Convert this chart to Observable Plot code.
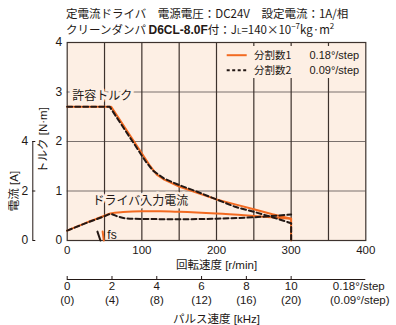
<!DOCTYPE html>
<html><head><meta charset="utf-8">
<script src="https://cdn.jsdelivr.net/npm/d3@7"></script>
<script src="https://cdn.jsdelivr.net/npm/@observablehq/plot@0.6"></script>
<style>
body{margin:0;background:#fff;}
#wrap{position:relative;width:396px;height:325px;color:#231815;overflow:hidden;}
#chart{position:absolute;left:0;top:0;}
#title{position:absolute;left:66px;top:6px;font-family:"Noto Sans CJK JP",sans-serif;font-size:11.5px;line-height:15.5px;white-space:nowrap;}
#title b{font-family:"Liberation Sans",sans-serif;font-weight:bold;font-size:12px;}
#legend{position:absolute;left:222px;top:46px;width:141px;height:32px;background:#fdefe4;}
#legend svg{position:absolute;left:0;top:0;}
</style></head><body>
<div id="wrap">
<div id="chart"></div>
<div id="title">定電流ドライバ　電源電圧：DC24V　設定電流：1A/相<br>クリーンダンパ <b>D6CL-8.0F</b>付：J<span style="font-size:8px">L</span>=140×10<sup style="font-size:8px;line-height:0">−7</sup>kg·m<sup style="font-size:8px;line-height:0">2</sup></div>
<div id="legend"></div>
</div>
<script>
// ---- tick labels / categories ----
const rpmTicks = [0, 100, 200, 300, 400];
const gridRpm = [50, 100, 150, 200, 250, 300, 350];
const gridTorque = [1, 2, 3];
const torqueTicks = [0, 1, 2, 3, 4];
const currentTicks = [0, 2, 4];
const pulseKHz = [0, 2, 4, 6, 8, 10];
const pulseLabels = ["0", "2", "4", "6", "8", "10"];
const pulseLabels2 = ["(0)", "(4)", "(8)", "(12)", "(16)", "(20)"];
const legendNames = ["分割数1", "分割数2"];
const legendSteps = ["0.18°/step", "0.09°/step"];

// ---- series: torque [N·m] vs speed [r/min] ----
const torque1Rpm = [0, 59, 110, 120, 130, 150, 175, 200, 225, 250, 275, 300, 300];
const torque1 =    [2.7, 2.7, 1.53, 1.33, 1.23, 1.09, 0.96, 0.83, 0.73, 0.63, 0.53, 0.44, 0];
const torque2Rpm = [0, 57, 105, 115, 130, 150, 175, 200, 225, 250, 275, 300, 300];
const torque2 =    [2.7, 2.7, 1.6, 1.41, 1.25, 1.12, 0.98, 0.83, 0.68, 0.58, 0.47, 0.35, 0];

// ---- series: driver input current [A] vs speed [r/min] ----
const current1Rpm = [0, 25, 50, 58, 75, 100, 125, 150, 200, 250, 300];
const current1 =    [0.4, 0.71, 1.0, 1.09, 1.15, 1.18, 1.18, 1.16, 1.09, 0.99, 0.88];
const current2Rpm = [0, 25, 50, 58, 68, 80, 100, 150, 200, 250, 300];
const current2 =    [0.4, 0.7, 0.98, 1.07, 0.97, 0.89, 0.87, 0.86, 0.88, 0.94, 1.05];

// ---- self-start frequency fs markers (speed, torque) ----
const fs1Rpm = [47.5, 49]; const fs1Torque = [0.18, 0];
const fs2Rpm = [40.5, 44.5]; const fs2Torque = [0.18, 0];

const ORANGE = "#f26a21", BLACK = "#231815", BG = "#fdefe4";
const GRIDV = "#3d322d", GRIDH = "#7a716d";
const LAT = "Liberation Sans, Noto Sans CJK JP, sans-serif";
const CJK = "Noto Sans CJK JP, sans-serif";

const zip = (xs, ys) => xs.map((x, i) => ({x, y: ys[i]}));
const T1 = zip(torque1Rpm, torque1), T2 = zip(torque2Rpm, torque2);
const C1 = zip(current1Rpm, current1.map(a => a / 2)); // current axis: 4 A ↔ 2 N·m
const C2 = zip(current2Rpm, current2.map(a => a / 2));
const F1 = zip(fs1Rpm, fs1Torque), F2 = zip(fs2Rpm, fs2Torque);

const off = 39; // secondary axis offset below frame
const FS = 11.5;
const chart = Plot.plot({
  width: 396, height: 325,
  marginLeft: 66.7, marginRight: 30.7, marginTop: 42, marginBottom: 85,
  x: {domain: [0, 400], axis: null},
  y: {domain: [0, 4], axis: null},
  style: {background: "transparent", color: BLACK},
  marks: [
    Plot.frame({fill: BG, stroke: null}),
    Plot.ruleY(gridTorque, {stroke: GRIDH, strokeWidth: 1.2}),
    Plot.ruleX(gridRpm, {stroke: GRIDV, strokeWidth: 1.2}),
    Plot.frame({stroke: GRIDV, strokeWidth: 1.2}),
    // labels with halo
    Plot.text(["許容トルク"], {x: 47, y: 3, text: d => d, fontFamily: CJK, fontSize: 12, fill: BLACK, stroke: BG, strokeWidth: 6, dy: 4}),
    Plot.text(["ドライバ入力電流"], {x: 98, y: 0.79, text: d => d, fontFamily: CJK, fontSize: 12, fill: BLACK, stroke: BG, strokeWidth: 5}),
    Plot.text(["fs"], {x: 60, y: 0.11, text: d => d, fontFamily: LAT, fontSize: 12, fill: BLACK}),
    // series
    Plot.line(T1, {x: "x", y: "y", stroke: ORANGE, strokeWidth: 2}),
    Plot.line(C1, {x: "x", y: "y", stroke: ORANGE, strokeWidth: 2, curve: "monotone-x"}),
    Plot.line(F1, {x: "x", y: "y", stroke: ORANGE, strokeWidth: 2}),
    Plot.line(T2, {x: "x", y: "y", stroke: BLACK, strokeWidth: 2, strokeDasharray: "5,3"}),
    Plot.line(C2, {x: "x", y: "y", stroke: BLACK, strokeWidth: 2, strokeDasharray: "5,3", curve: "monotone-x"}),
    Plot.line(F2, {x: "x", y: "y", stroke: BLACK, strokeWidth: 2}),
    // torque axis labels
    Plot.text(torqueTicks, {y: d => d, frameAnchor: "left", dx: -5, textAnchor: "end", lineAnchor: "middle", text: d => String(d), fontFamily: LAT, fontSize: 12}),
    // rpm axis labels
    Plot.text(rpmTicks, {x: d => d, frameAnchor: "bottom", dy: 9.5, textAnchor: "middle", lineAnchor: "middle", text: d => String(d), fontFamily: LAT, fontSize: FS}),
    Plot.text(["回転速度 [r/min]"], {frameAnchor: "bottom", dy: 24.5, textAnchor: "middle", lineAnchor: "middle", text: d => d, fontFamily: LAT, fontSize: 11.5}),
    // current axis
    Plot.ruleX([0], {x: d => d, y1: 0, y2: 2, dx: -34.4, stroke: BLACK, strokeWidth: 1}),
    Plot.ruleY(currentTicks, {y: d => d / 2, x1: 0, x2: 0, insetRight: -3, dx: -34.4, stroke: BLACK, strokeWidth: 1}),
    Plot.text(currentTicks, {y: d => d / 2, frameAnchor: "left", dx: -39, textAnchor: "end", lineAnchor: "middle", text: d => String(d), fontFamily: LAT, fontSize: 12}),
    Plot.text(["電流 [A]"], {y: 1, frameAnchor: "left", dx: -52.5, rotate: -90, textAnchor: "middle", lineAnchor: "middle", text: d => d, fontFamily: LAT, fontSize: 11.5}),
    Plot.text(["トルク [N·m]"], {y: 2.03, frameAnchor: "left", dx: -23.5, rotate: -90, textAnchor: "middle", lineAnchor: "middle", text: d => d, fontFamily: LAT, fontSize: 11.5}),
    // pulse speed axis
    Plot.ruleY([0], {dy: off, stroke: BLACK, strokeWidth: 1}),
    Plot.ruleX(pulseKHz, {x: d => d * 30, y1: 0, y2: 0, insetBottom: 3, dy: off, stroke: BLACK, strokeWidth: 1}),
    Plot.text(pulseKHz, {x: d => d * 30, frameAnchor: "bottom", dy: off + 7, textAnchor: "middle", lineAnchor: "middle", text: (d, i) => pulseLabels[i], fontFamily: LAT, fontSize: FS}),
    Plot.text(pulseKHz, {x: d => d * 30, frameAnchor: "bottom", dy: off + 21, textAnchor: "middle", lineAnchor: "middle", text: (d, i) => pulseLabels2[i], fontFamily: LAT, fontSize: FS}),
    Plot.text([legendSteps[0]], {frameAnchor: "bottom-right", dx: -7, dy: off + 7, textAnchor: "middle", lineAnchor: "middle", text: d => d, fontFamily: LAT, fontSize: FS}),
    Plot.text(["(" + legendSteps[1] + ")"], {frameAnchor: "bottom-right", dx: -6, dy: off + 21, textAnchor: "middle", lineAnchor: "middle", text: d => d, fontFamily: LAT, fontSize: FS}),
    Plot.text(["パルス速度 [kHz]"], {frameAnchor: "bottom", dy: off + 40, textAnchor: "middle", lineAnchor: "middle", text: d => d, fontFamily: LAT, fontSize: 11.5})
  ]
});
document.getElementById("chart").appendChild(chart);

// legend
const lg = d3.select("#legend").append("svg").attr("width", 141).attr("height", 32);
const rows = [{c: ORANGE, dash: null}, {c: BLACK, dash: "3,2.5"}];
rows.forEach((r, i) => {
  const y = 9.2 + i * 15;
  lg.append("line").attr("x1", 4.7).attr("x2", 24.7).attr("y1", y).attr("y2", y)
    .attr("stroke", r.c).attr("stroke-width", 2).attr("stroke-dasharray", r.dash);
  lg.append("text").attr("x", 32).attr("y", y).attr("dy", "0.35em").attr("font-family", CJK).attr("font-size", 10.5).attr("fill", BLACK).text(legendNames[i]);
  lg.append("text").attr("x", 87.5).attr("y", y).attr("dy", "0.35em").attr("font-family", LAT).attr("font-size", 11).attr("fill", BLACK).text(legendSteps[i]);
});
</script>
</body></html>
